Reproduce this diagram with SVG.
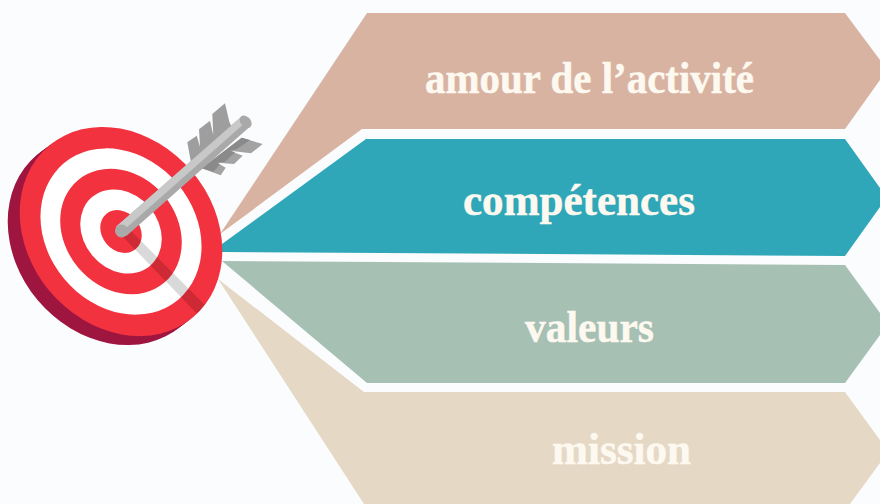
<svg xmlns="http://www.w3.org/2000/svg" width="880" height="504" viewBox="0 0 880 504">
<style>
.lbl{font-family:"Liberation Serif","Times New Roman",serif;font-weight:700;font-size:44px;fill:#FDF9F0;stroke:#FDF9F0;stroke-width:.5;text-anchor:middle}
.red{fill:#F2323F}
.wht{fill:#fff}
.drk{fill:#9E1640}
</style>
<defs>
<clipPath id="face"><ellipse cx="121" cy="231.500" rx="112" ry="93" transform="rotate(50 121 231.500)"/></clipPath>
</defs>
<rect width="880" height="504" fill="#FBFCFE"/>
<g id="connectors"></g>
<g id="amour">
<polygon points="220,234 367,13 845,13 880,60 880,80 845,129 362,129" fill="#D9B3A1"/>
<text class="lbl" x="589.500" y="93" textLength="329" lengthAdjust="spacingAndGlyphs">amour de l’activité</text>
</g>
<g id="competences">
<polygon points="222,244 366,139 845,139 880,188 880,207 845,256 222,252" fill="#2FA7B8"/>
<text class="lbl" x="579" y="215" textLength="232" lengthAdjust="spacingAndGlyphs">compétences</text>
</g>
<g id="valeurs">
<polygon points="222,261 845,265 880,313 880,335 845,383 367,383" fill="#A6C0B3"/>
<text class="lbl" x="589.500" y="342" textLength="129" lengthAdjust="spacingAndGlyphs">valeurs</text>
</g>
<g id="mission">
<polygon points="218,279 364,392 845,392 880,440 880,463 850,504 364,504" fill="#E5D9C6"/>
<text class="lbl" x="621.500" y="463.500" textLength="139" lengthAdjust="spacingAndGlyphs">mission</text>
</g>
<g id="target">
<ellipse class="drk" cx="109" cy="240.500" rx="112" ry="93" transform="rotate(50 109 240.500)"/>
<ellipse class="drk" cx="113" cy="237.500" rx="112" ry="93" transform="rotate(50 113 237.500)"/>
<ellipse class="drk" cx="117" cy="234.500" rx="112" ry="93" transform="rotate(50 117 234.500)"/>
<ellipse class="red" cx="121" cy="231.500" rx="112" ry="93" transform="rotate(50 121 231.500)"/>
<ellipse class="wht" cx="121" cy="231.500" rx="89" ry="74" transform="rotate(50 121 231.500)"/>
<ellipse class="red" cx="121" cy="231.500" rx="67" ry="56" transform="rotate(50 121 231.500)"/>
<ellipse class="wht" cx="121" cy="231.500" rx="45" ry="37.500" transform="rotate(50 121 231.500)"/>
<ellipse class="red" cx="121" cy="231.500" rx="23" ry="19" transform="rotate(50 121 231.500)"/>
<polygon points="130,230 215,315 205,322 123,237" fill="#000" opacity=".15" clip-path="url(#face)"/>
</g>
<g id="arrow">
<polygon points="187.300,142.300 196.700,135.700 200,146.700 199,129.300 210,120.700 213.300,135 212.300,114 225,103.300 229.300,121.700 231.700,126.700 193.300,161.700 190.700,160.700" fill="#9E9E9E"/>
<polygon points="241.700,137.700 262.700,144 251,153.300 230,150.700 242.700,155.700 234,164 217.300,162.700 225.700,167.700 220.700,175.300 201.700,168.300" fill="#A3A3A3"/>
<polygon points="241.700,137.700 250,140 236.700,149.300 230,150.700 235,152.300 225,161.700 217.300,162.700 220,164.300 213.300,171.700 201.700,168.300" fill="#8A8A8A"/>
<polygon points="116,226.700 240.700,117.300 250.700,126 126.700,235.700" fill="#A9A9A9"/>
<polygon points="116,226.700 240.700,117.300 246,122 120.500,233" fill="#C8C8C8"/>
<circle cx="121.500" cy="231" r="6.500" fill="#A9A9A9"/>
<ellipse cx="245.700" cy="121.700" rx="7" ry="5" transform="rotate(48 245.700 121.700)" fill="#A9A9A9"/>
</g>
</svg>
